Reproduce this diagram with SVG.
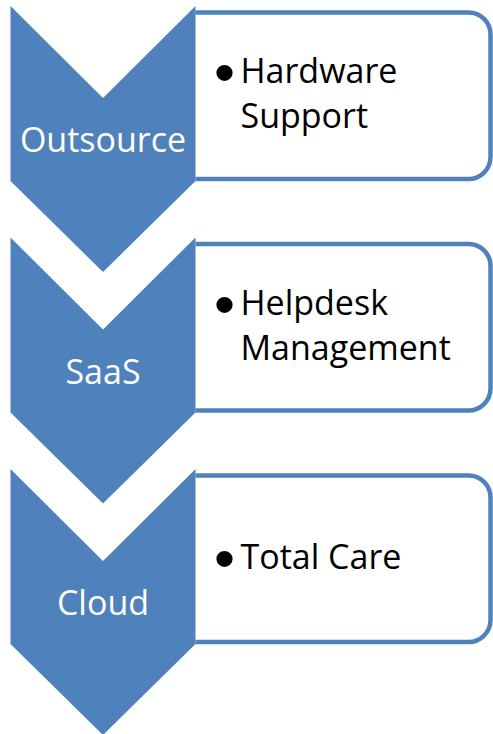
<svg xmlns="http://www.w3.org/2000/svg" width="493" height="734" viewBox="0 0 493 734">
<style>
.box{fill:#fff;stroke:#4F81BD;stroke-width:4.5}
.chev{fill:#4F81BD}
.lbl{font-family:"Open Sans","Liberation Sans",sans-serif;font-size:34px;fill:#fff;text-anchor:middle}
.txt{font-family:"Open Sans","Liberation Sans",sans-serif;font-size:34px;fill:#000}
.bul{font-family:"Liberation Sans",sans-serif;font-size:60px;fill:#000}
</style>
<g id="step1">
<path class="box" d="M195.5,12.5 H468.5 A22,22 0 0 1 490.5,34.5 V157 A22,22 0 0 1 468.5,179 H195.5"/>
<polygon class="chev" points="10.5,6 103,98 195.5,6 195.5,181 103,272 10.5,181"/>
<text class="lbl" x="103" y="152">Outsource</text>
<text class="bul" x="214" y="93">•</text>
<text class="txt" x="240.5" y="83">Hardware</text>
<text class="txt" x="240.5" y="128">Support</text>
</g>
<g id="step2">
<path class="box" d="M195.5,244 H468.5 A22,22 0 0 1 490.5,266 V388.5 A22,22 0 0 1 468.5,410.5 H195.5"/>
<polygon class="chev" points="10.5,237.5 103,329.5 195.5,237.5 195.5,412.5 103,503.5 10.5,412.5"/>
<text class="lbl" x="103" y="383.5">SaaS</text>
<text class="bul" x="214" y="324.5">•</text>
<text class="txt" x="240.5" y="314.5">Helpdesk</text>
<text class="txt" x="240.5" y="359.5">Management</text>
</g>
<g id="step3">
<path class="box" d="M195.5,475.5 H468.5 A22,22 0 0 1 490.5,497.5 V620 A22,22 0 0 1 468.5,642 H195.5"/>
<polygon class="chev" points="10.5,469 103,561 195.5,469 195.5,644 103,735 10.5,644"/>
<text class="lbl" x="103" y="615">Cloud</text>
<text class="bul" x="214" y="579">•</text>
<text class="txt" x="240.5" y="569">Total Care</text>
</g>
<g id="connectors"></g>
</svg>
